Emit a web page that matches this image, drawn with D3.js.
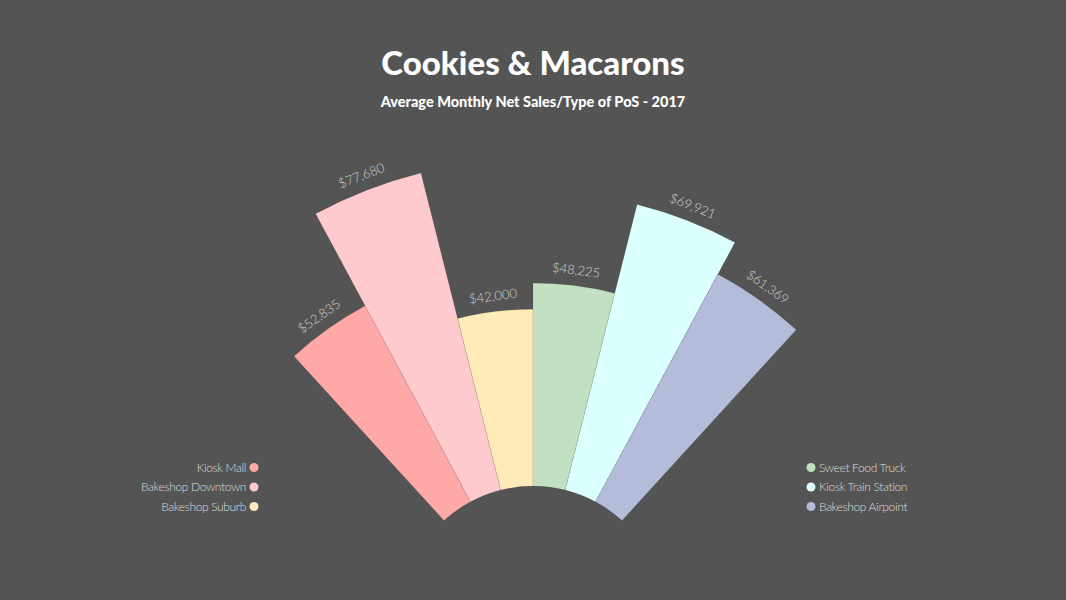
<!DOCTYPE html>
<html>
<head>
<meta charset="utf-8">
<script src="https://cdn.jsdelivr.net/npm/d3@7"></script>
<style>
  html, body { margin: 0; padding: 0; background: #545454; }
  svg { display: block; }
</style>
</head>
<body>
<div id="chart"></div>
<script>
// data
let categories = ['Kiosk Mall', 'Bakeshop Downtown', 'Bakeshop Suburb',
                  'Sweet Food Truck', 'Kiosk Train Station', 'Bakeshop Airpoint'];
let sales = [52835, 77680, 42000, 48225, 69921, 61369];
let colors = ['#ffa8a8', '#ffcacd', '#ffebb8', '#c2e1c2', '#dcffff', '#b3bdd9'];

let dim = { 'width': 1066, 'height': 600 };
let center = { x: 533, y: 618 };

let svg = d3.select('#chart')
    .append('svg')
    .attr('width', dim.width)
    .attr('height', dim.height);

svg.append('rect')
    .attr('width', dim.width)
    .attr('height', dim.height)
    .attr('fill', '#545454');

// title and subtitle
svg.append('text')
    .attr('x', 533).attr('y', 75)
    .attr('text-anchor', 'middle')
    .attr('fill', '#ffffff')
    .style('font-family', 'Lato, sans-serif')
    .style('font-weight', 900)
    .style('font-size', '33px')
    .text('Cookies & Macarons');

svg.append('text')
    .attr('x', 533).attr('y', 107)
    .attr('text-anchor', 'middle')
    .attr('fill', '#ffffff')
    .style('font-family', 'Lato, sans-serif')
    .style('font-weight', 900)
    .style('font-size', '14.5px')
    .text('Average Monthly Net Sales/Type of PoS - 2017');

// angular band: the fan spans about 85 degrees
let half = 42.4 * Math.PI / 180;
let x = d3.scaleBand()
    .domain(categories)
    .range([-half, half]);

// radius grows from the inner hole
let y = d3.scaleLinear()
    .domain([0, d3.max(sales)])
    .range([132, 459]);

let arc = d3.arc()
    .innerRadius(y(0))
    .outerRadius((d, i) => y(sales[i]))
    .startAngle(d => x(d))
    .endAngle(d => x(d) + x.bandwidth());

let g = svg.append('g')
    .attr('transform', `translate(${center.x},${center.y})`);

g.selectAll('path')
    .data(categories)
    .join('path')
    .attr('d', arc)
    .attr('fill', (d, i) => colors[i])
    .attr('stroke', 'rgba(0,0,0,0.12)')
    .attr('stroke-width', 0.6);

// value labels, rotated along each bar
g.selectAll('text.value')
    .data(categories)
    .join('text')
    .attr('class', 'value')
    .attr('transform', (d, i) => {
        let a = (x(d) + x.bandwidth() / 2) * 180 / Math.PI;
        return `rotate(${a}) translate(0, ${-(y(sales[i]) + 11)})`;
    })
    .attr('text-anchor', 'middle')
    .attr('fill', '#d0d0d0')
    .style('font-family', 'Lato, sans-serif')
    .style('font-weight', 300)
    .style('font-size', '13px')
    .text((d, i) => '$' + d3.format(',')(sales[i]));

// legends: first three left, last three right
let legendLeft = svg.append('g');
categories.slice(0, 3).forEach((c, i) => {
    let row = legendLeft.append('g')
        .attr('transform', `translate(254, ${467.5 + i * 19.5})`);
    row.append('circle').attr('r', 4.5).attr('fill', colors[i]);
    row.append('text')
        .attr('x', -8).attr('dy', '0.35em')
        .attr('text-anchor', 'end')
        .attr('fill', '#dcdcdc')
        .style('font-family', 'Lato, sans-serif')
        .style('font-weight', 300)
        .style('font-size', '12px')
        .style('letter-spacing', '-0.35px')
        .text(c);
});

let legendRight = svg.append('g');
categories.slice(3).forEach((c, i) => {
    let row = legendRight.append('g')
        .attr('transform', `translate(811, ${467.5 + i * 19.5})`);
    row.append('circle').attr('r', 4.5).attr('fill', colors[i + 3]);
    row.append('text')
        .attr('x', 8).attr('dy', '0.35em')
        .attr('fill', '#dcdcdc')
        .style('font-family', 'Lato, sans-serif')
        .style('font-weight', 300)
        .style('font-size', '12px')
        .style('letter-spacing', '-0.35px')
        .text(c);
});
</script>
</body>
</html>
